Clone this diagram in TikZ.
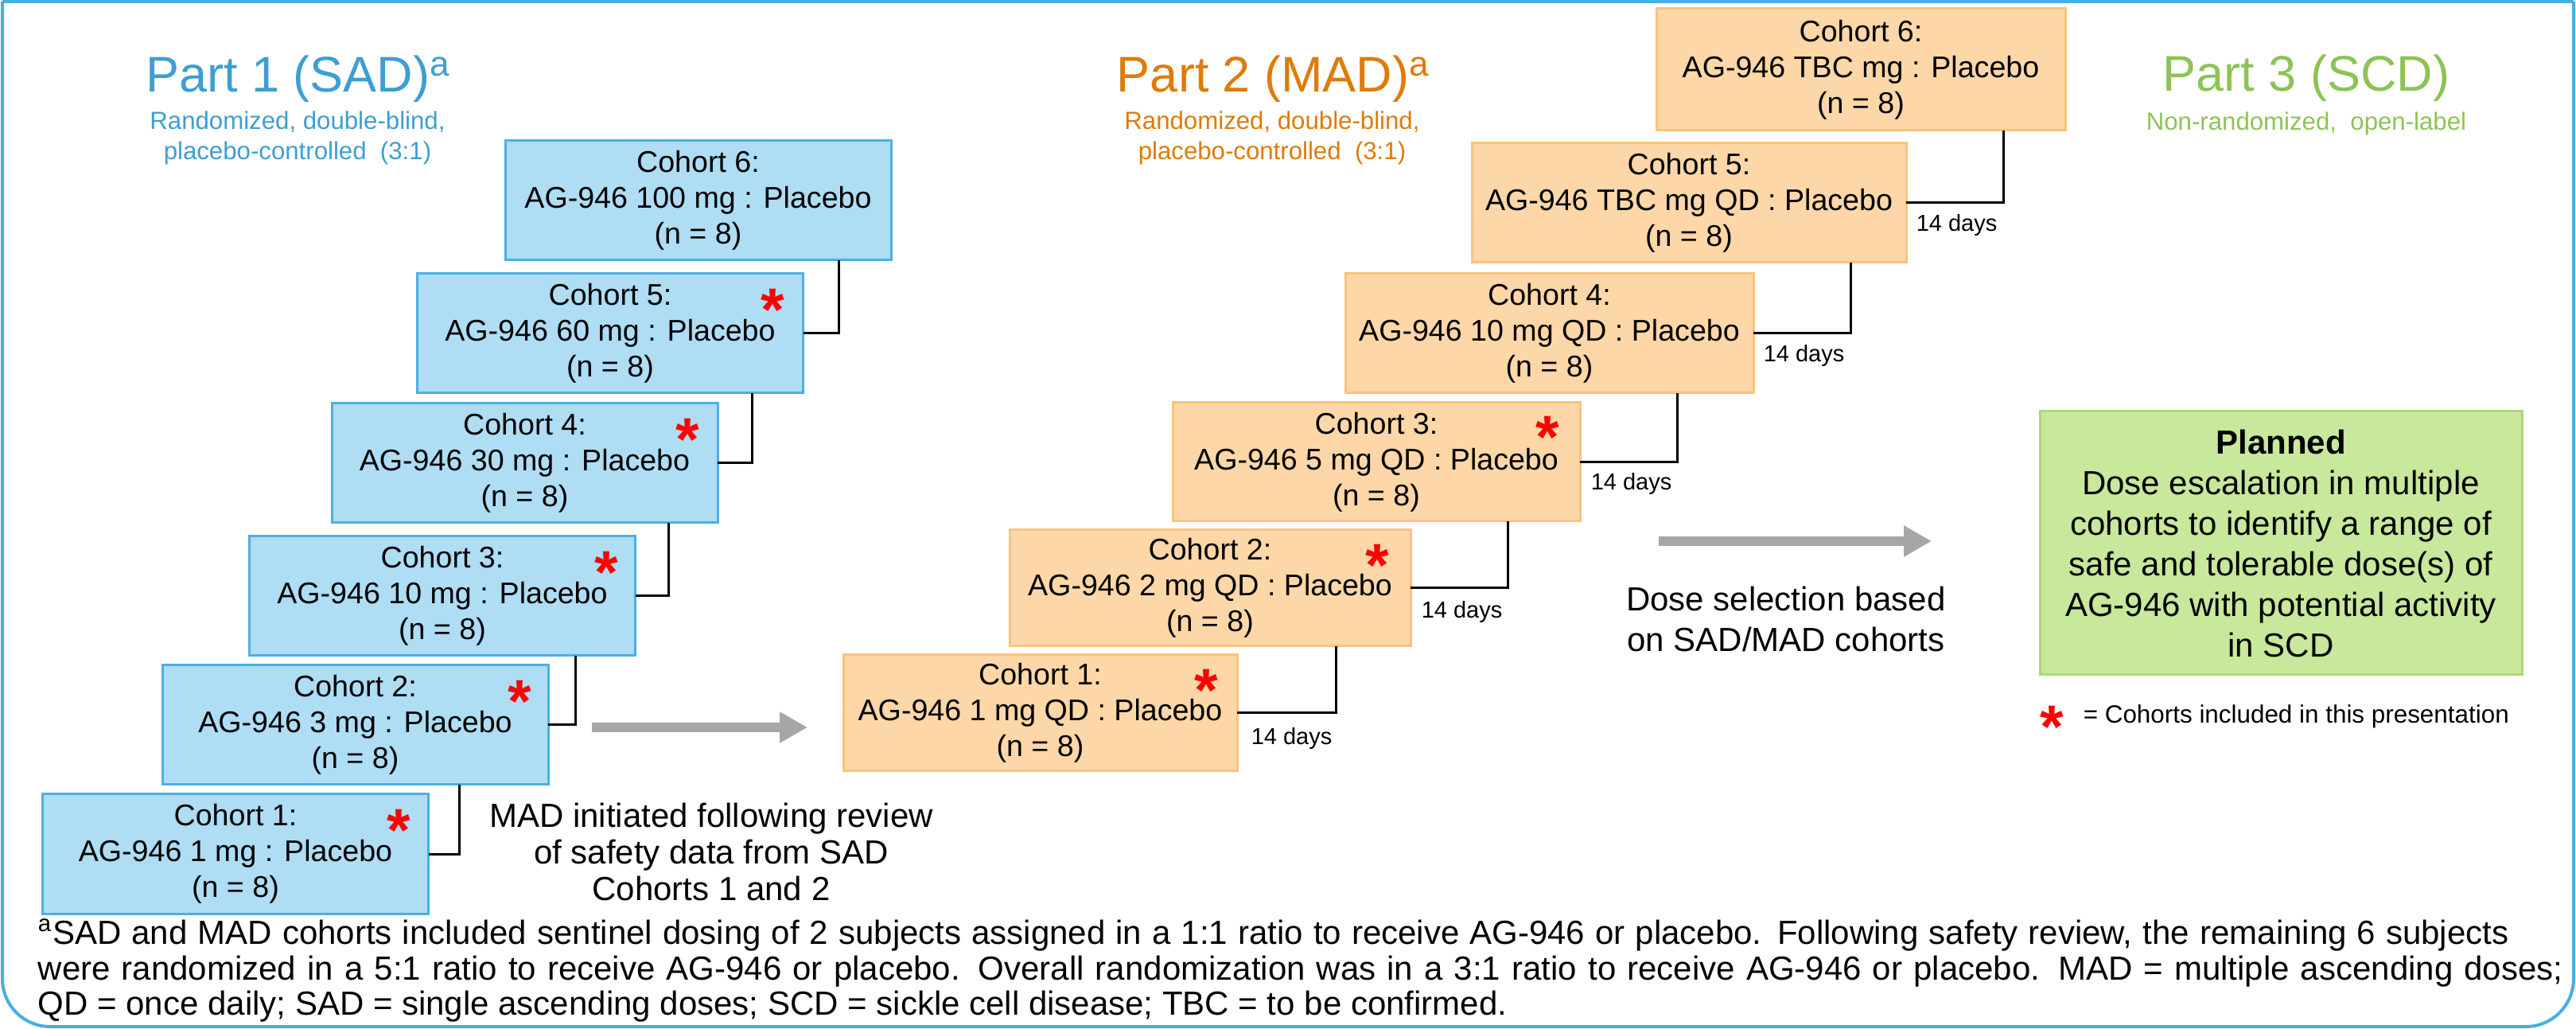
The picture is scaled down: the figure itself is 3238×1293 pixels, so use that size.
\documentclass[tikz,border=0pt]{standalone}
\usepackage{fontspec}
\setmainfont{Liberation Sans}
\usetikzlibrary{arrows.meta,calc}
\definecolor{framecol}{RGB}{73,174,226}
\definecolor{sadhead}{RGB}{62,158,210}
\definecolor{sadfill}{RGB}{174,221,244}
\definecolor{sadline}{RGB}{75,176,229}
\definecolor{madhead}{RGB}{222,123,10}
\definecolor{madfill}{RGB}{253,215,167}
\definecolor{madline}{RGB}{250,195,125}
\definecolor{scdhead}{RGB}{141,195,85}
\definecolor{scdfill}{RGB}{200,232,155}
\definecolor{scdline}{RGB}{172,216,115}
\definecolor{arrowgray}{RGB}{166,166,166}
\newcommand\redast{\smash{*}}
\begin{document}
\begin{tikzpicture}[x=0.25pt,y=-0.25pt,
  boxtext/.style={align=center, inner sep=0pt, outer sep=0pt, line width=0.75pt,
    font=\fontsize{9.4}{11.25}\selectfont},
  sadbox/.style={boxtext, draw=sadline, fill=sadfill, minimum width=121.25pt, minimum height=37.5pt},
  madbox/.style={boxtext, draw=madline, fill=madfill},
  scdbox/.style={align=center, inner sep=0pt, line width=0.75pt, draw=scdline, fill=scdfill,
    font=\fontsize{10.5}{12.75}\selectfont},
  conn/.style={draw=black, line width=0.75pt},
  redstar/.style={anchor=base, text=red, inner sep=0pt, font=\fontsize{19}{19}\bfseries\selectfont},
  days/.style={anchor=west, inner sep=0pt, font=\fontsize{7.25}{8}\selectfont},
  head/.style={anchor=base, inner sep=0pt, font=\fontsize{15.75}{18}\selectfont},
  subhead/.style={anchor=base, inner sep=0pt, font=\fontsize{7.8}{9.5}\selectfont},
  freetext/.style={anchor=base, inner sep=0pt, font=\fontsize{10.5}{12}\selectfont},
  foot/.style={anchor=base west, inner sep=0pt, font=\fontsize{10.5}{11}\selectfont},
  grayarrow/.style={draw=arrowgray, line width=3pt, -{Triangle[length=8.75pt,width=9.25pt]}},
  framestyle/.style={draw=framecol, line width=1pt}
]
\useasboundingbox (0,0) rectangle (3238,1293);
% frame
\draw[framestyle] (3,2) -- (3235,2);
\draw[framestyle, rounded corners=15pt] (3,2) -- (3,1290) -- (3235,1290) -- (3235,2);

% headings
\node[head, text=sadhead] (h1) at (375,116) {Part 1 (SAD)\textsuperscript{a}};
\node[subhead, text=sadhead] (h1a) at (374,163) {Randomized, double-blind,};
\node[subhead, text=sadhead] (h1b) at (374,201) {placebo-controlled\ \ (3:1)};
\node[head, text=madhead] (h2) at (1601,116) {Part 2 (MAD)\textsuperscript{a}};
\node[subhead, text=madhead] (h2a) at (1599,163) {Randomized, double-blind,};
\node[subhead, text=madhead] (h2b) at (1599,201) {placebo-controlled\ \ (3:1)};
\node[head, text=scdhead] (h3) at (2899,115) {Part 3 (SCD)};
\node[subhead, text=scdhead] (h3a) at (2899,164) {Non-randomized,\ \ open-label};

% SAD boxes
\node[sadbox] (S6) at (877.5,252) {Cohort 6:\\AG-946 100 mg : Placebo\\(n = 8)};
\node[sadbox] (S5) at (767,419) {Cohort 5:\\AG-946 60 mg : Placebo\\(n = 8)};
\node[sadbox] (S4) at (659.5,582) {Cohort 4:\\AG-946 30 mg : Placebo\\(n = 8)};
\node[sadbox] (S3) at (556,749) {Cohort 3:\\AG-946 10 mg : Placebo\\(n = 8)};
\node[sadbox] (S2) at (446.5,911) {Cohort 2:\\AG-946 3 mg : Placebo\\(n = 8)};
\node[sadbox] (S1) at (296,1073) {Cohort 1:\\AG-946 1 mg : Placebo\\(n = 8)};

\draw[conn] (S5.east) -- ++(45,0) coordinate (k65) -- (k65 |- S6.south);
\draw[conn] (S4.east) -- ++(43,0) coordinate (k54) -- (k54 |- S5.south);
\draw[conn] (S3.east) -- ++(42,0) coordinate (k43) -- (k43 |- S4.south);
\draw[conn] (S2.east) -- ++(34,0) coordinate (k32) -- (k32 |- S3.south);
\draw[conn] (S1.east) -- ++(39,0) coordinate (k21) -- (k21 |- S2.south);

\node[redstar] (s5star) at ($(S5.north east)+(-38,72)$) {\redast};
\node[redstar] (s4star) at ($(S4.north east)+(-38,72)$) {\redast};
\node[redstar] (s3star) at ($(S3.north east)+(-36,72)$) {\redast};
\node[redstar] (s2star) at ($(S2.north east)+(-36,72)$) {\redast};
\node[redstar] (s1star) at ($(S1.north east)+(-37,72)$) {\redast};

% MAD boxes
\node[madbox, minimum width=128.5pt, minimum height=38.25pt] (M6) at (2339,87.5) {Cohort 6:\\AG-946 TBC mg : Placebo\\(n = 8)};
\node[madbox, minimum width=136.5pt, minimum height=37.5pt] (M5) at (2123,255) {Cohort 5:\\AG-946 TBC mg QD : Placebo\\(n = 8)};
\node[madbox, minimum width=128.25pt, minimum height=37.5pt] (M4) at (1947.5,419) {Cohort 4:\\AG-946 10 mg QD : Placebo\\(n = 8)};
\node[madbox, minimum width=128pt, minimum height=37.25pt] (M3) at (1730,580.5) {Cohort 3:\\AG-946 5 mg QD : Placebo\\(n = 8)};
\node[madbox, minimum width=126pt, minimum height=36.5pt] (M2) at (1521,739) {Cohort 2:\\AG-946 2 mg QD : Placebo\\(n = 8)};
\node[madbox, minimum width=123.75pt, minimum height=36.5pt] (M1) at (1307.5,896) {Cohort 1:\\AG-946 1 mg QD : Placebo\\(n = 8)};

\draw[conn] (M5.east) -- ++(122,0) coordinate (j65) -- (j65 |- M6.south);
\draw[conn] (M4.east) -- ++(122,0) coordinate (j54) -- (j54 |- M5.south);
\draw[conn] (M3.east) -- ++(122,0) coordinate (j43) -- (j43 |- M4.south);
\draw[conn] (M2.east) -- ++(122,0) coordinate (j32) -- (j32 |- M3.south);
\draw[conn] (M1.east) -- ++(124,0) coordinate (j21) -- (j21 |- M2.south);

\node[days] (d5) at ($(M5.east)+(12,28)$) {14 days};
\node[days] (d4) at ($(M4.east)+(12,28)$) {14 days};
\node[days] (d3) at ($(M3.east)+(13,28)$) {14 days};
\node[days] (d2) at ($(M2.east)+(13,30)$) {14 days};
\node[days] (d1) at ($(M1.east)+(17,32)$) {14 days};

\node[redstar] (m3star) at ($(M3.north east)+(-41,70)$) {\redast};
\node[redstar] (m2star) at ($(M2.north east)+(-42,71)$) {\redast};
\node[redstar] (m1star) at ($(M1.north east)+(-39,71)$) {\redast};

% arrows
\coordinate (a1s) at (744,914);
\coordinate (a1e) at (1015,914);
\draw[grayarrow] (a1s) -- (a1e);
\coordinate (a2s) at (2085,680);
\coordinate (a2e) at (2428,680);
\draw[grayarrow] (a2s) -- (a2e);

% free texts
\node[freetext] (mt1) at (894,1040) {MAD initiated following review};
\node[freetext] (mt2) at (894,1086) {of safety data from SAD};
\node[freetext] (mt3) at (894,1132) {Cohorts 1 and 2};
\node[freetext] (ds1) at (2245,768) {Dose selection based};
\node[freetext] (ds2) at (2245,819) {on SAD/MAD cohorts};

% SCD box
\node[scdbox, minimum width=151.5pt, minimum height=82.75pt] (G) at (2867,682.5)
  {\textbf{Planned}\\Dose escalation in multiple\\cohorts to identify a range of\\safe and tolerable dose(s) of\\AG-946 with potential activity\\in SCD};

% legend
\node[redstar] (legstar) at (2579,940) {\redast};
\node[anchor=base west, inner sep=0pt, font=\fontsize{7.85}{9}\selectfont] (legtext) at (2618,909) {= Cohorts included in this presentation};

% footnote
\node[foot] (f1) at (47,1186) {\makebox[776.5pt][s]{\textsuperscript{a}SAD and MAD cohorts included sentinel dosing of 2 subjects assigned in a 1:1 ratio to receive AG-946 or placebo. Following safety review, the remaining 6 subjects}};
\node[foot] (f2) at (47,1231) {\makebox[793.5pt][s]{were randomized in a 5:1 ratio to receive AG-946 or placebo. Overall randomization was in a 3:1 ratio to receive AG-946 or placebo. MAD = multiple ascending doses;}};
\node[foot] (f3) at (47,1275) {QD = once daily; SAD = single ascending doses; SCD = sickle cell disease; TBC = to be confirmed.};
\end{tikzpicture}
\end{document}
